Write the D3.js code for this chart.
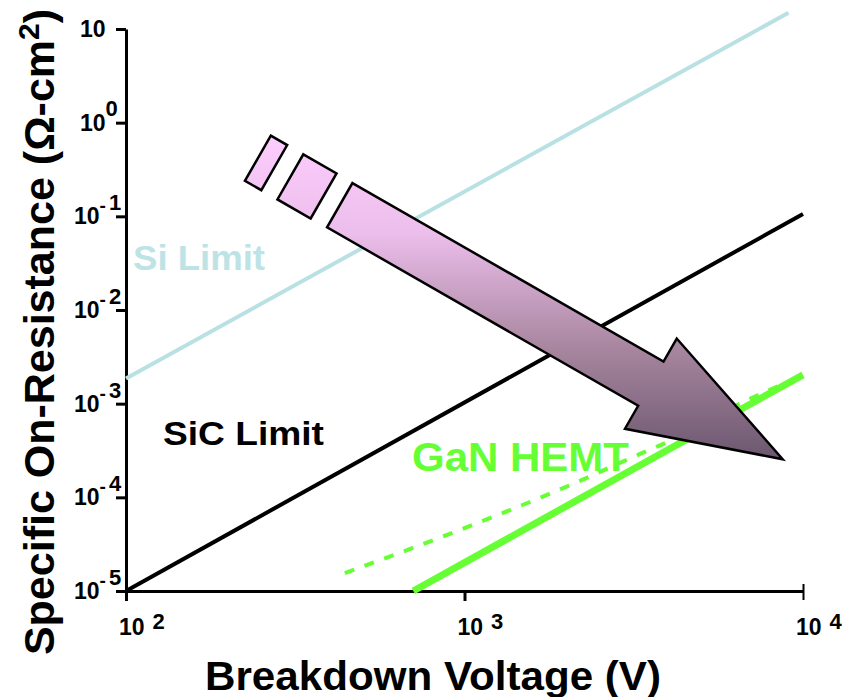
<!DOCTYPE html>
<html>
<head>
<meta charset="utf-8">
<script src="https://cdn.jsdelivr.net/npm/d3@7"></script>
<style>
  body { margin: 0; background: #fff; }
  svg text { font-family: "Liberation Sans", Arial, sans-serif; font-weight: bold; }
</style>
</head>
<body>
<svg id="chart" width="852" height="697"></svg>
<script>
// axis ticks
const xTickValues = [100, 1000, 10000];
const xTickExp = ["2", "3", "4"];
const yTickValues = [10, 1, 0.1, 0.01, 0.001, 0.0001, 0.00001];
const yTickExp = ["", "0", "-1", "-2", "-3", "-4", "-5"];

// limit lines (breakdown voltage V, specific on-resistance ohm-cm2)
const siLimitV = [100, 9060];
const siLimitR = [1.86e-3, 14.9];
const sicLimitV = [100, 10000];
const sicLimitR = [1e-5, 0.106];
const ganSolidV = [706, 10000];
const ganSolidR = [1e-5, 2.03e-3];
const ganDashV = [443, 1216, 2051, 3365, 4045, 6518, 10000];
const ganDashR = [1.55e-5, 6.2e-5, 1.35e-4, 3.0e-4, 4.0e-4, 1.0e-3, 2.0e-3];

// trend arrow, tail centre and tip in data coordinates
const arrowTail = [428, 0.1315];
const arrowTip = [8710, 2.55e-4];

const svg = d3.select("#chart");

const x = d3.scaleLog().domain([100, 10000]).range([126, 803]);
const y = d3.scaleLog().domain([1e-5, 10]).range([591, 29]);

const line = d3.line().x((d) => x(d[0])).y((d) => y(d[1]));
const zip = (a, b) => a.map((v, i) => [v, b[i]]);

// gradient for the arrow
const defs = svg.append("defs");
const grad = defs.append("linearGradient")
  .attr("id", "arrowGrad")
  .attr("gradientUnits", "userSpaceOnUse")
  .attr("x1", 0).attr("x2", 0)
  .attr("y1", 135).attr("y2", 462);
grad.append("stop").attr("offset", 0).attr("stop-color", "#fdcdfd");
grad.append("stop").attr("offset", 0.3).attr("stop-color", "#ecbeeb");
grad.append("stop").attr("offset", 0.65).attr("stop-color", "#a8869f");
grad.append("stop").attr("offset", 1).attr("stop-color", "#6a566e");

// axes
const yAxis = svg.append("g")
  .attr("transform", `translate(${x(100)},0)`)
  .call(d3.axisLeft(y).tickValues(yTickValues).tickFormat("").tickSize(10).tickSizeOuter(0));
const xAxis = svg.append("g")
  .attr("transform", `translate(0,${y(1e-5)})`)
  .call(d3.axisBottom(x).tickValues(xTickValues).tickFormat("").tickSize(10).tickSizeOuter(0));
[xAxis, yAxis].forEach((g) => {
  g.select(".domain").attr("stroke", "#000").attr("stroke-width", 3);
  g.selectAll(".tick line").attr("stroke", "#000").attr("stroke-width", 3);
});
// end tick at 10^4 crosses the axis line
xAxis.selectAll(".tick line").filter((d) => d === 10000)
  .attr("y1", -7).attr("y2", 9).attr("stroke-width", 2);

// y tick labels: "10" with a raised exponent
yTickValues.forEach((v, i) => {
  const ty = y(v);
  const exp = yTickExp[i];
  const neg = exp.startsWith("-");
  const t = svg.append("text")
    .attr("x", neg ? 74 : 80).attr("y", ty + 8)
    .attr("font-size", 23);
  t.append("tspan").text("10");
  if (exp === "") return;
  if (neg) {
    t.append("tspan").attr("font-size", 19).attr("dy", -12).text("-");
    t.append("tspan").attr("font-size", 22).attr("dx", 3).attr("dy", -2).text(exp.slice(1));
  } else {
    t.append("tspan").attr("font-size", 22).attr("dy", -15).text(exp);
  }
});

// x tick labels
xTickValues.forEach((v, i) => {
  const tx = x(v);
  const t = svg.append("text").attr("x", tx - 7).attr("y", 635)
    .attr("font-size", 23);
  t.append("tspan").text("10");
  t.append("tspan").attr("font-size", 22).attr("dx", 8).attr("dy", -6).text(xTickExp[i]);
});

// axis titles
svg.append("text")
  .attr("x", 205).attr("y", 690)
  .attr("font-size", 40)
  .attr("textLength", 456).attr("lengthAdjust", "spacingAndGlyphs")
  .text("Breakdown Voltage (V)");

const yTitle = svg.append("text")
  .attr("transform", "translate(54,332) rotate(-90)")
  .attr("text-anchor", "middle")
  .attr("font-size", 43);
yTitle.append("tspan").text("Specific On-Resistance (\u03A9-cm");
yTitle.append("tspan").attr("font-size", 30).attr("dy", -15).text("2");
yTitle.append("tspan").attr("dy", 15).text(")");

// limit lines
svg.append("path").datum(zip(siLimitV, siLimitR))
  .attr("d", line).attr("fill", "none")
  .attr("stroke", "#b9e1e4").attr("stroke-width", 4);
svg.append("path").datum(zip(sicLimitV, sicLimitR))
  .attr("d", line).attr("fill", "none")
  .attr("stroke", "#000").attr("stroke-width", 4);
svg.append("path").datum(zip(ganDashV, ganDashR))
  .attr("d", line.curve(d3.curveMonotoneX)).attr("fill", "none")
  .attr("stroke", "#66ff33").attr("stroke-width", 4)
  .attr("stroke-dasharray", "10,11");
line.curve(d3.curveLinear);
svg.append("path").datum(zip(ganSolidV, ganSolidR))
  .attr("d", line).attr("fill", "none")
  .attr("stroke", "#66ff33").attr("stroke-width", 7);

// labels
svg.append("text").attr("x", 133).attr("y", 270)
  .attr("font-size", 35).attr("fill", "#bde3e6")
  .attr("textLength", 132).attr("lengthAdjust", "spacingAndGlyphs")
  .text("Si Limit");
svg.append("text").attr("x", 163).attr("y", 445)
  .attr("font-size", 33).attr("fill", "#000")
  .attr("textLength", 161).attr("lengthAdjust", "spacingAndGlyphs")
  .text("SiC Limit");
svg.append("text").attr("x", 412).attr("y", 471)
  .attr("font-size", 40).attr("fill", "#66ff33")
  .attr("textLength", 217).attr("lengthAdjust", "spacingAndGlyphs")
  .text("GaN HEMT");

// arrow: built along the tail->tip direction
const p0 = [x(arrowTail[0]), y(arrowTail[1])];
const p1 = [x(arrowTip[0]), y(arrowTip[1])];
const len = Math.hypot(p1[0] - p0[0], p1[1] - p0[1]);
const dir = [(p1[0] - p0[0]) / len, (p1[1] - p0[1]) / len];
const nrm = [-dir[1], dir[0]];
const toXY = ([u, v]) => [p0[0] + u * dir[0] + v * nrm[0], p0[1] + u * dir[1] + v * nrm[1]];

const shaftW = 25.5, headW = 52, headLen = 152;
const neck = len - headLen;
const arrowShape = [
  [0, -shaftW], [neck, -shaftW], [neck, -headW], [len, 0],
  [neck, headW], [neck, shaftW], [0, shaftW]
];
const blocks = [[-94.4, -75.5], [-56.9, -18.6]];

const polyLine = d3.line().curve(d3.curveLinearClosed);
blocks.forEach(([a, b]) => {
  svg.append("path")
    .attr("d", polyLine([[a, -26], [b, -26], [b, 26], [a, 26]].map(toXY)))
    .attr("fill", "url(#arrowGrad)")
    .attr("stroke", "#000").attr("stroke-width", 2.5)
    .attr("stroke-linejoin", "miter");
});
svg.append("path")
  .attr("d", polyLine(arrowShape.map(toXY)))
  .attr("fill", "url(#arrowGrad)")
  .attr("stroke", "#000").attr("stroke-width", 2.5)
  .attr("stroke-linejoin", "miter");
</script>
</body>
</html>
